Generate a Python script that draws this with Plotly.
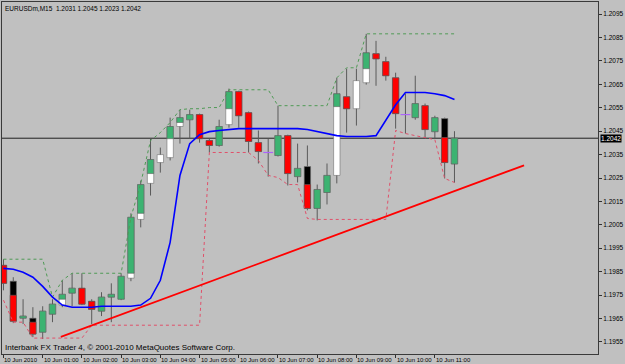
import plotly.graph_objects as go

# ---------------- data ----------------
bar_index = list(range(47))
open_ = [1.19877, 1.19809, 1.19651, 1.19651, 1.19591, 1.19668, 1.19707, 1.19758, 1.19779, 1.19723,
         1.19681, 1.19741, 1.19732, 1.19822, 1.20073, 1.20227, 1.20316, 1.20337, 1.20470, 1.20499,
         1.20521, 1.20410, 1.20389, 1.20478, 1.20619, 1.20529, 1.20401, 1.20359, 1.20346, 1.20431,
         1.20256, 1.20299, 1.20120, 1.20188, 1.20261, 1.20597, 1.20546, 1.20657, 1.20781, 1.20747,
         1.20678, 1.20521, 1.20508, 1.20559, 1.20448, 1.20504, 1.2031]
high = [1.19903, 1.19826, 1.19732, 1.19698, 1.19702, 1.19732, 1.19813, 1.19843, 1.19843, 1.19732,
        1.19762, 1.19800, 1.19843, 1.20099, 1.20239, 1.20418, 1.20380, 1.20508, 1.20542, 1.20542,
        1.20525, 1.20418, 1.20499, 1.20632, 1.20623, 1.20534, 1.20453, 1.20418, 1.20559, 1.20435,
        1.20397, 1.20389, 1.20222, 1.20312, 1.20678, 1.20717, 1.20717, 1.20866, 1.20836, 1.20768,
        1.20700, 1.20610, 1.20687, 1.20568, 1.20516, 1.20508, 1.2045]
low = [1.19770, 1.19630, 1.19626, 1.19570, 1.19562, 1.19634, 1.19698, 1.19702, 1.19707, 1.19626,
       1.19660, 1.19634, 1.19728, 1.19809, 1.20039, 1.20175, 1.20273, 1.20325, 1.20397, 1.20418,
       1.20401, 1.20359, 1.20384, 1.20465, 1.20465, 1.20359, 1.20312, 1.20256, 1.20342, 1.20218,
       1.20231, 1.20112, 1.20069, 1.20137, 1.20227, 1.20444, 1.20474, 1.20649, 1.20644, 1.20666,
       1.20461, 1.20440, 1.20499, 1.20418, 1.20418, 1.20248, 1.2023]
close = [1.19800, 1.19638, 1.19660, 1.19583, 1.19681, 1.19711, 1.19753, 1.19779, 1.19711, 1.19689,
         1.19741, 1.19753, 1.19830, 1.20082, 1.20222, 1.20329, 1.20350, 1.20470, 1.20508, 1.20521,
         1.20418, 1.20389, 1.20470, 1.20619, 1.20516, 1.20406, 1.20363, 1.20359, 1.20431, 1.20269,
         1.20291, 1.20120, 1.20201, 1.20261, 1.20610, 1.20546, 1.20666, 1.20785, 1.20759, 1.20687,
         1.20525, 1.20521, 1.20568, 1.20457, 1.20508, 1.20316, 1.2042]
# price where the coloured (green/red) part of each body ends
color_level = [1.19877, 1.19749, 1.19651, 1.19634, 1.19591, 1.19668, 1.19732, 1.19758, 1.19779, 1.19723,
               1.19681, 1.19741, 1.19732, 1.19843, 1.20099, 1.20269, 1.20350, 1.20418, 1.20487, 1.20499,
               1.20521, 1.20410, 1.20389, 1.20546, 1.20619, 1.20529, 1.20401, 1.20359, 1.20346, 1.20431,
               1.20256, 1.20222, 1.20120, 1.20188, 1.20555, 1.20597, 1.20666, 1.20717, 1.20781, 1.20747,
               1.20678, 1.20521, 1.20508, 1.20559, 1.20448, 1.20423, 1.2031]
ma = [1.19864, 1.19860, 1.19847, 1.19826, 1.19787, 1.19741, 1.19707, 1.19698, 1.19698, 1.19698,
      1.19702, 1.19702, 1.19702, 1.19702, 1.19707, 1.19736, 1.19813, 1.19975, 1.20261, 1.20397,
      1.20435, 1.20448, 1.20453, 1.20457, 1.20461, 1.20461, 1.20461, 1.20461, 1.20461, 1.20461,
      1.20461, 1.20457, 1.20448, 1.20440, 1.20431, 1.20427, 1.20427, 1.20427, 1.20431, 1.20495,
      1.20563, 1.20615, 1.20615, 1.20615, 1.20610, 1.20602, 1.20585]
upper = [1.19903, 1.19903, 1.19903, 1.19903, 1.19903, 1.19741, 1.19813, 1.19843, 1.19843, 1.19843,
         1.19843, 1.19843, 1.19843, 1.20082, 1.20227, 1.20410, 1.20444, 1.20487, 1.20542, 1.20546,
         1.20546, 1.20551, 1.20551, 1.20627, 1.20627, 1.20627, 1.20627, 1.20627, 1.20559, 1.20559,
         1.20559, 1.20559, 1.20559, 1.20559, 1.20678, 1.20721, 1.20721, 1.20866, 1.20866, 1.20866,
         1.20866, 1.20866, 1.20866, 1.20866, 1.20866, 1.20866, 1.20866]
lower = [1.19728, 1.19634, 1.19634, 1.19566, 1.19566, 1.19566, 1.19566, 1.19566, 1.19566, 1.19621,
         1.19621, 1.19621, 1.19621, 1.19621, 1.19621, 1.19621, 1.19621, 1.19621, 1.19621, 1.19621,
         1.19621, 1.20359, 1.20359, 1.20359, 1.20359, 1.20359, 1.20325, 1.20261, 1.20252, 1.20222,
         1.20222, 1.20077, 1.20073, 1.20073, 1.20073, 1.20073, 1.20073, 1.20073, 1.20073, 1.20073,
         1.20453, 1.20440, 1.20431, 1.20423, 1.20414, 1.20248, 1.20231]
trend_x = [5.85, 53.1]
trend_y = [1.19571, 1.20304]
price_ticks = [1.1955, 1.1965, 1.1975, 1.1985, 1.1995, 1.2005, 1.2015, 1.2025,
               1.2035, 1.2045, 1.2055, 1.2065, 1.2075, 1.2085, 1.2095]
time_tick_idx = [0, 4, 8, 12, 16, 20, 24, 28, 32, 36, 40, 44]
time_labels = ["10 Jun 2010", "10 Jun 01:00", "10 Jun 02:00", "10 Jun 03:00", "10 Jun 04:00",
               "10 Jun 05:00", "10 Jun 06:00", "10 Jun 07:00", "10 Jun 08:00", "10 Jun 09:00",
               "10 Jun 10:00", "10 Jun 11:00"]
last_price = 1.2042
title_text = "EURUSDm,M15  1.2031 1.2045 1.2023 1.2042"
copyright_text = "Interbank FX Trader 4, \u00a9 2001-2010 MetaQuotes Software Corp."

# ---------------- derived marks ----------------
GREEN = "#3cb371"
RED = "#ff0000"
WICK = "#5a5a5a"

wx, wy = [], []
for i, o, h, l, c in zip(bar_index, open_, high, low, close):
    top, bot = max(o, c), min(o, c)
    wx += [i, i, None, i, i, None]
    wy += [h, top, None, bot, l, None]

base_b, base_h, base_c, base_lw = [], [], [], []
ov_b, ov_h, ov_c, ov_lw = [], [], [], []
doji_x, doji_y = [], []
for o, c, lv in zip(open_, close, color_level):
    bull = c > o
    base_b.append(min(o, c))
    base_h.append(abs(c - o))
    base_c.append("white" if bull else "black")
    base_lw.append(0.6 if c != o else 0)
    if bull:
        ov_b.append(lv); ov_h.append(c - lv); ov_c.append(GREEN)
        ov_lw.append(0.6 if c - lv > 0 else 0)
    else:
        ov_b.append(c); ov_h.append(lv - c); ov_c.append(RED)
        ov_lw.append(0.6 if lv - c > 0 else 0)
for i, o, c in zip(bar_index, open_, close):
    if o == c:
        doji_x.append(i); doji_y.append(o)

fig = go.Figure()
fig.add_trace(go.Bar(x=bar_index, y=base_h, base=base_b, width=0.65,
                     marker=dict(color=base_c, line=dict(color="#707070", width=base_lw)),
                     hoverinfo="skip"))
fig.add_trace(go.Bar(x=bar_index, y=ov_h, base=ov_b, width=0.65,
                     marker=dict(color=ov_c, line=dict(color="#606060", width=ov_lw)),
                     hoverinfo="skip"))
fig.add_trace(go.Scatter(x=wx, y=wy, mode="lines", line=dict(color=WICK, width=1),
                         hoverinfo="skip"))
fig.add_trace(go.Scatter(x=doji_x, y=doji_y, mode="markers",
                         marker=dict(symbol="line-ew-open", size=7,
                                     line=dict(color=WICK, width=1.2)), hoverinfo="skip"))
fig.add_trace(go.Scatter(x=bar_index, y=upper, mode="lines",
                         line=dict(color="#4f9a55", width=1, dash="dot")))
fig.add_trace(go.Scatter(x=bar_index, y=lower, mode="lines",
                         line=dict(color="#e0506a", width=1, dash="dot")))
fig.add_trace(go.Scatter(x=bar_index, y=ma, mode="lines",
                         line=dict(color="#0000ff", width=1.6)))
fig.add_trace(go.Scatter(x=trend_x, y=trend_y, mode="lines",
                         line=dict(color="#ff0000", width=1.8)))

fig.add_shape(type="line", xref="paper", x0=0, x1=1, yref="y", y0=last_price, y1=last_price,
              line=dict(color="#202020", width=1), layer="below")

FONT = "Liberation Sans, Arial, sans-serif"
annotations = []
for idx, lab in zip(time_tick_idx, time_labels):
    annotations.append(dict(x=idx, xref="x", y=0, yref="paper", text=lab, showarrow=False,
                            xanchor="left", yanchor="top", xshift=-1, yshift=-1,
                            font=dict(family=FONT, size=6, color="black")))
annotations.append(dict(x=0, xref="paper", y=1, yref="paper", text=title_text, showarrow=False,
                        xanchor="left", yanchor="top", xshift=1, yshift=-1,
                        font=dict(family=FONT, size=6.5, color="black")))
annotations.append(dict(x=0, xref="paper", y=0, yref="paper", text=copyright_text, showarrow=False,
                        xanchor="left", yanchor="bottom", xshift=1, yshift=0,
                        font=dict(family=FONT, size=8, color="black")))
annotations.append(dict(x=1, xref="paper", y=last_price, yref="y", text=str(last_price),
                        showarrow=False, xanchor="left", yanchor="middle", xshift=2,
                        bgcolor="black", borderpad=0,
                        font=dict(family=FONT, size=6.5, color="white")))

fig.update_layout(
    width=625, height=364,
    margin=dict(l=2, r=23, t=1, b=10),
    paper_bgcolor="#c0c0c0", plot_bgcolor="#c0c0c0",
    showlegend=False, barmode="overlay",
    annotations=annotations,
    xaxis=dict(range=[-0.15, 60.64], showgrid=False, zeroline=False,
               tickmode="array", tickvals=time_tick_idx, showticklabels=False,
               ticks="outside", ticklen=3, tickcolor="#303030",
               showline=True, linecolor="#3a3a3a", linewidth=1, mirror=True),
    yaxis=dict(range=[1.19498, 1.21002], side="right", showgrid=False, zeroline=False,
               tickmode="array", tickvals=price_ticks,
               ticktext=[f"{v:.4f}" for v in price_ticks],
               ticks="outside", ticklen=3, tickcolor="#303030",
               tickfont=dict(family=FONT, size=6.5, color="black"),
               showline=True, linecolor="#3a3a3a", linewidth=1, mirror=True),
)

fig.write_html("out.html")
